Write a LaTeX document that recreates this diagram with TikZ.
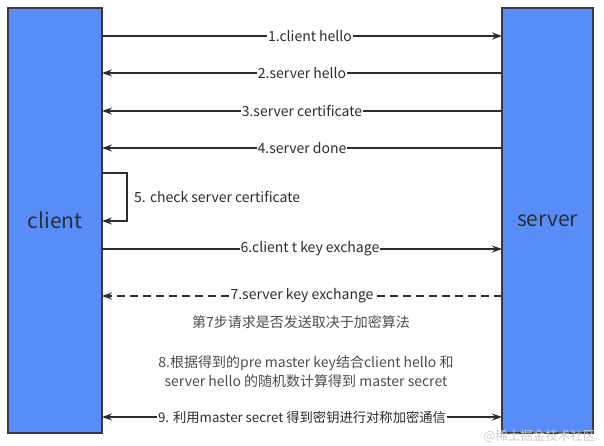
\documentclass[tikz,border=0pt]{standalone}
\usepackage{fontspec}
\setmainfont{Noto Sans CJK SC}
\usetikzlibrary{arrows.meta}
\definecolor{boxblue}{RGB}{88,141,248}
\definecolor{edge}{RGB}{55,58,70}
\definecolor{ink}{RGB}{45,45,45}
\tikzset{
  party/.style={draw=edge, line width=1.3pt, fill=boxblue, minimum width=94pt, minimum height=425pt, inner sep=0pt, font=\fontsize{21}{24}\selectfont, text=ink},
  msg/.style={draw=ink, line width=1.2pt, -{Stealth[length=10pt,width=7pt]}},
  lbl/.style={fill=white, inner sep=1pt, font=\fontsize{14}{16}\selectfont, text=ink},
  note/.style={font=\fontsize{14}{19}\selectfont, text=ink!85, align=center}
}
\begin{document}
\begin{tikzpicture}[x=1pt,y=-1pt]
\useasboundingbox (0,0) rectangle (604,446);
\node[party] (client) at (55,220.5) {client};
\node[party, minimum width=91pt] (server) at (547.5,220.5) {server};
% endpoints
\coordinate (c1) at (102,36);  \coordinate (s1) at (502,36);
\coordinate (c2) at (102,73);  \coordinate (s2) at (502,73);
\coordinate (c3) at (102,111); \coordinate (s3) at (502,111);
\coordinate (c4) at (102,148); \coordinate (s4) at (502,148);
\coordinate (c5a) at (102,173); \coordinate (l5a) at (127,173);
\coordinate (l5b) at (127,221); \coordinate (c5b) at (102,221);
\coordinate (c6) at (102,249); \coordinate (s6) at (502,249);
\coordinate (c7) at (102,296); \coordinate (s7) at (502,296);
\coordinate (c9) at (102,417); \coordinate (s9) at (502,417);
\draw[msg] (c1) -- node[lbl, pos=0.52] (m1) {1.client hello} (s1);
\draw[msg] (s2) -- node[lbl, pos=0.5] (m2) {2.server hello} (c2);
\draw[msg] (s3) -- node[lbl, pos=0.5] (m3) {3.server certificate} (c3);
\draw[msg] (s4) -- node[lbl, pos=0.5] (m4) {4.server done} (c4);
\draw[msg] (c5a) -- (l5a) -- (l5b) -- (c5b);
\node[lbl, anchor=west] (m5) at (133,197) {5. check server certificate};
\draw[msg] (c6) -- node[lbl, pos=0.52] (m6) {6.client t key exchage} (s6);
\draw[msg, dashed, dash pattern=on 8pt off 5pt] (s7) -- node[lbl, pos=0.5] (m7) {7.server key exchange} (c7);
\node[note] (n7) at (301,322) {第7步请求是否发送取决于加密算法};
\node[note] (n8) at (306,372) {8.根据得到的pre master key结合client hello 和\\server hello 的随机数计算得到 master secret};
\draw[msg, {Stealth[length=10pt,width=7pt]}-{Stealth[length=10pt,width=7pt]}] (c9) -- node[lbl, pos=0.5, font=\fontsize{13.3}{16}\selectfont] (m9) {9. 利用master secret 得到密钥进行对称加密通信} (s9);
\node[font=\fontsize{12.5}{14}\selectfont, text=gray!40, anchor=east] (wm) at (599,436) {@稀土掘金技术社区};
\end{tikzpicture}
\end{document}
